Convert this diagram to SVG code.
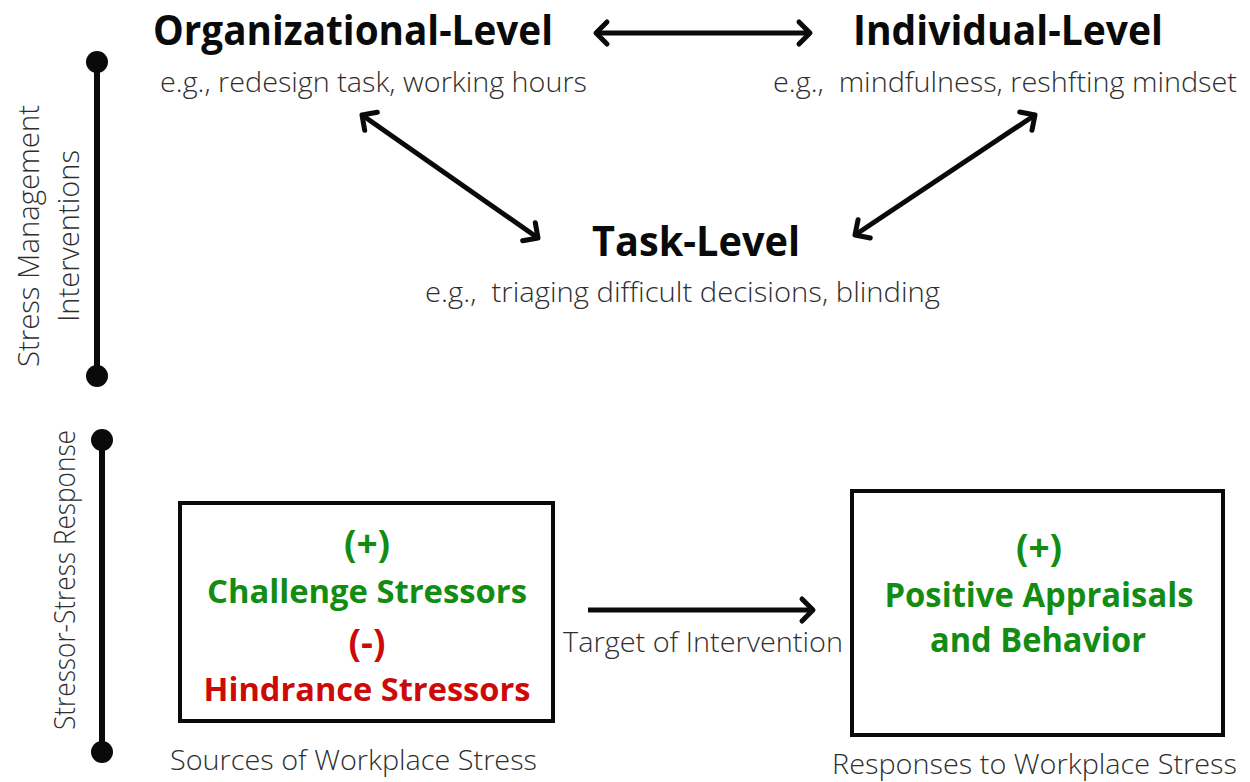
<svg xmlns="http://www.w3.org/2000/svg" width="1250" height="782" viewBox="0 0 1250 782">
  <style>
    .head { font-family: "Open Sans", "Liberation Sans", sans-serif; font-weight: 700; fill: #0a0a0a; }
    .desc { font-family: "Open Sans", "Liberation Sans", sans-serif; font-weight: 300; fill: #2e2e2e; }
    .box-text { font-family: "Open Sans", "Liberation Sans", sans-serif; font-weight: 700; text-anchor: middle; }
    .green { fill: #138c14; }
    .red { fill: #cc0a0a; }
    .box { fill: #ffffff; stroke: #0a0a0a; stroke-width: 4; }
    .conn { stroke: #0a0a0a; stroke-width: 5; fill: none; }
    .axis { stroke: #0a0a0a; stroke-width: 6; }
    .dot { fill: #0a0a0a; }
  </style>
  <defs>
    <marker id="chev" markerUnits="userSpaceOnUse" markerWidth="30" markerHeight="30" viewBox="-16 -15 20 30" refX="0" refY="0" orient="auto-start-reverse">
      <path d="M -11 -11 L 0 0 L -11 11" fill="none" stroke="#0a0a0a" stroke-width="5" stroke-linecap="round" stroke-linejoin="round"/>
    </marker>
  </defs>
  <rect width="1250" height="782" fill="#ffffff"/>

  <!-- side axes -->
  <g id="axis-interventions">
    <line class="axis" x1="97" y1="62" x2="97" y2="376"/>
    <circle class="dot" cx="97" cy="62" r="11"/>
    <circle class="dot" cx="97" cy="376" r="11"/>
    <text class="desc" font-size="29" text-anchor="middle" x="39" y="236" transform="rotate(-90 39 236)" textLength="262" lengthAdjust="spacingAndGlyphs">Stress Management</text>
    <text class="desc" font-size="29" text-anchor="middle" x="79" y="236" transform="rotate(-90 79 236)" textLength="172" lengthAdjust="spacingAndGlyphs">Interventions</text>
  </g>
  <g id="axis-response">
    <line class="axis" x1="102" y1="440" x2="102" y2="752"/>
    <circle class="dot" cx="102" cy="440" r="11"/>
    <circle class="dot" cx="102" cy="752" r="11"/>
    <text class="desc" font-size="29" text-anchor="middle" x="75" y="580" transform="rotate(-90 75 580)" textLength="300" lengthAdjust="spacingAndGlyphs">Stressor-Stress Response</text>
  </g>

  <!-- intervention levels -->
  <g id="organizational-level">
    <text class="head" font-size="42" x="153" y="45" textLength="400" lengthAdjust="spacingAndGlyphs">Organizational-Level</text>
    <text class="desc" font-size="28" x="160" y="92" textLength="427" lengthAdjust="spacingAndGlyphs">e.g., redesign task, working hours</text>
  </g>
  <g id="individual-level">
    <text class="head" font-size="42" x="853" y="45" textLength="310" lengthAdjust="spacingAndGlyphs">Individual-Level</text>
    <text class="desc" font-size="28" x="773" y="92" textLength="464" lengthAdjust="spacingAndGlyphs" xml:space="preserve">e.g.,  mindfulness, reshfting mindset</text>
  </g>
  <g id="task-level">
    <text class="head" font-size="42" x="592" y="256" textLength="208" lengthAdjust="spacingAndGlyphs">Task-Level</text>
    <text class="desc" font-size="28" x="425" y="302" textLength="515" lengthAdjust="spacingAndGlyphs" xml:space="preserve">e.g.,  triaging difficult decisions, blinding</text>
  </g>

  <!-- stressor and response boxes -->
  <g id="stressors">
    <rect class="box" x="180" y="503" width="373" height="218"/>
    <text class="box-text green" font-size="37" x="367" y="557">(+)</text>
    <text class="box-text green" font-size="33" x="367" y="603" textLength="320" lengthAdjust="spacingAndGlyphs">Challenge Stressors</text>
    <text class="box-text red" font-size="37" x="367" y="656">(-)</text>
    <text class="box-text red" font-size="33" x="367" y="701" textLength="327" lengthAdjust="spacingAndGlyphs">Hindrance Stressors</text>
    <text class="desc" font-size="28" x="170" y="770" textLength="367" lengthAdjust="spacingAndGlyphs">Sources of Workplace Stress</text>
  </g>
  <g id="responses">
    <rect class="box" x="852" y="491" width="371" height="244"/>
    <text class="box-text green" font-size="37" x="1039" y="561">(+)</text>
    <text class="box-text green" font-size="34" x="1039" y="607" textLength="309" lengthAdjust="spacingAndGlyphs">Positive Appraisals</text>
    <text class="box-text green" font-size="34" x="1038" y="652" textLength="216" lengthAdjust="spacingAndGlyphs">and Behavior</text>
    <text class="desc" font-size="28" x="832" y="774" textLength="405" lengthAdjust="spacingAndGlyphs">Responses to Workplace Stress</text>
  </g>

  <!-- connectors -->
  <g id="connectors">
    <line class="conn" x1="596" y1="33" x2="810" y2="33" marker-start="url(#chev)" marker-end="url(#chev)"/>
    <line class="conn" x1="362" y1="115" x2="538" y2="238" marker-start="url(#chev)" marker-end="url(#chev)"/>
    <line class="conn" x1="1035" y1="115" x2="855" y2="235" marker-start="url(#chev)" marker-end="url(#chev)"/>
    <line class="conn" x1="588" y1="610" x2="813" y2="610" marker-end="url(#chev)"/>
    <text class="desc" font-size="28" x="563" y="652" textLength="280" lengthAdjust="spacingAndGlyphs">Target of Intervention</text>
  </g>
</svg>
